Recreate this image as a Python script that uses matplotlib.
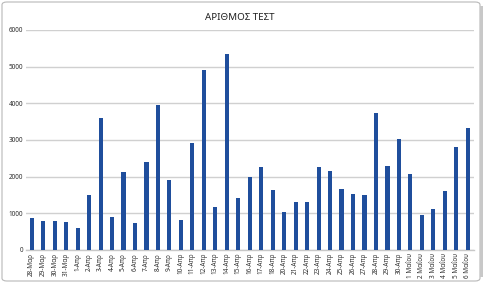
import matplotlib
matplotlib.use("Agg")
import matplotlib.pyplot as plt
from matplotlib.patches import FancyBboxPatch

plt.rcParams['font.family'] = ['Noto Sans', 'DejaVu Sans']

dates = ["28-Μαρ", "29-Μαρ", "30-Μαρ", "31-Μαρ",
         "1-Απρ", "2-Απρ", "3-Απρ", "4-Απρ", "5-Απρ", "6-Απρ", "7-Απρ", "8-Απρ",
         "9-Απρ", "10-Απρ", "11-Απρ", "12-Απρ", "13-Απρ", "14-Απρ", "15-Απρ",
         "16-Απρ", "17-Απρ", "18-Απρ", "20-Απρ", "21-Απρ", "22-Απρ", "23-Απρ",
         "24-Απρ", "25-Απρ", "26-Απρ", "27-Απρ", "28-Απρ", "29-Απρ", "30-Απρ",
         "1 Μαΐου", "2 Μαΐου", "3 Μαΐου", "4 Μαΐου", "5 Μαΐου", "6 Μαΐου"]
tests = [870, 785, 800, 765,
         610, 1500, 3595, 900, 2125, 730, 2400, 3950,
         1920, 810, 2910, 4920, 1170, 5355, 1420,
         2000, 2255, 1645, 1045, 1318, 1318, 2255,
         2155, 1673, 1518, 1491, 3727, 2300, 3036,
         2082, 955, 1127, 1609, 2800, 3327]
yticks = [0, 1000, 2000, 3000, 4000, 5000, 6000]

fig = plt.figure(figsize=(4.85, 2.83), dpi=100)
ax = fig.add_axes([26/485, 1 - 250/283, 447.5/485, 220/283])

x = range(len(dates))
ax.bar(x, tests, width=0.36, color='#1F4E9C', zorder=3)

ax.set_xlim(-0.5, len(dates) - 0.5)
ax.set_ylim(0, 6000)
ax.set_yticks(yticks)
ax.set_yticklabels([str(v) for v in yticks], fontsize=4.6, color='#303030')
ax.set_xticks(list(x))
ax.set_xticklabels(dates, rotation=90, fontsize=4.6, color='#303030')
ax.tick_params(axis='both', length=0, pad=2)
ax.yaxis.grid(True, color='#d0d0d0', linewidth=1.0, zorder=0)
for s in ['top', 'right', 'left']:
    ax.spines[s].set_visible(False)
ax.spines['bottom'].set_color('#c8c8c8')
ax.spines['bottom'].set_linewidth(1.0)

fig.text(0.495, 1 - 18/283, "ΑΡΙΘΜΟΣ ΤΕΣΤ", ha='center', va='center',
         fontsize=7, color='#202020')

# Excel-style frame around the chart
frame = FancyBboxPatch((2/485, 2/283), 478/485, 279/283,
                       boxstyle="round,pad=0,rounding_size=0.01",
                       transform=fig.transFigure, fill=False,
                       edgecolor='#b8b8b8', linewidth=0.8)
fig.patches.append(frame)
fig.patches.append(plt.Rectangle((480/485, 0.02), 3/485, 0.96,
                                 transform=fig.transFigure,
                                 facecolor='#c8c8c8', edgecolor='none'))

fig.savefig("out.png", dpi=100)
